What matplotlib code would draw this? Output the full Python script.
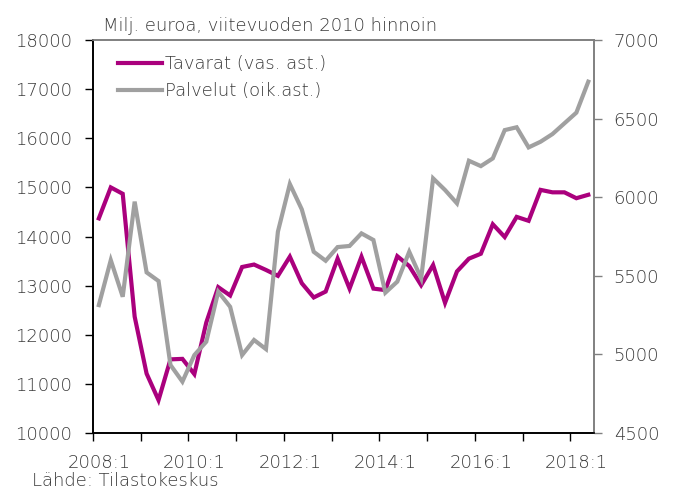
import numpy as np
import matplotlib
matplotlib.use("Agg")
import matplotlib.pyplot as plt

# Quarterly data 2008:1 - 2018:2
quarters = ["%d:%d" % (y, q) for y in range(2008, 2019) for q in range(1, 5)][:42]

# Tavarat, left axis (Milj. euroa)
tavarat = [14370, 15000, 14870, 12370, 11210, 10670, 11500, 11510, 11200, 12250,
           12970, 12800, 13380, 13430, 13320, 13200, 13590, 13050, 12760, 12880,
           13550, 12940, 13590, 12940, 12910, 13600, 13400, 13010, 13420, 12650,
           13290, 13550, 13650, 14250, 13990, 14400, 14320, 14950, 14900, 14900,
           14780, 14850]

# Palvelut, right axis (Milj. euroa)
palvelut = [5314, 5600, 5367, 5972, 5522, 5467, 4933, 4827, 4996, 5081,
            5399, 5303, 4996, 5092, 5034, 5781, 6084, 5923, 5653, 5596,
            5683, 5690, 5770, 5728, 5393, 5463, 5653, 5484, 6120, 6046,
            5961, 6232, 6198, 6247, 6427, 6445, 6317, 6353, 6402, 6470,
            6538, 6735]

left_ticks = [10000, 11000, 12000, 13000, 14000, 15000, 16000, 17000, 18000]
right_ticks = [4500, 5000, 5500, 6000, 6500, 7000]

text_col = "#3a3a3a"
plt.rcParams["font.family"] = ["DejaVu Sans"]
plt.rcParams["font.weight"] = 200
plt.rcParams["font.size"] = 13

fig = plt.figure(figsize=(6.73, 4.91), dpi=100)
ax = fig.add_axes([0.138, 0.118, 0.745, 0.8005])
ax2 = ax.twinx()

x = np.arange(len(quarters))
l1, = ax.plot(x, tavarat, color="#AA007D", lw=3, solid_joinstyle="miter",
              label="Tavarat (vas. ast.)")
l2, = ax2.plot(x, palvelut, color="#A0A0A0", lw=3, solid_joinstyle="miter",
               label="Palvelut (oik.ast.)")

ax.set_xlim(-0.5, len(quarters) - 0.5)
ax.set_ylim(10000, 18000)
ax2.set_ylim(4500, 7000)
ax.set_yticks(left_ticks)
ax2.set_yticks(right_ticks)

# tick marks between years, labels centred on the first quarter
ax.set_xticks(np.arange(-0.5, len(quarters), 4))
ax.set_xticklabels([])
lab_pos = np.arange(0, len(quarters), 8)
ax.set_xticks(lab_pos, minor=True)
ax.set_xticklabels([quarters[i] for i in lab_pos], minor=True)

for a in (ax, ax2):
    a.spines["top"].set_color("#808080")
    a.spines["left"].set_color("black")
    a.spines["bottom"].set_color("black")
    a.spines["right"].set_color("#808080")
    for s in a.spines.values():
        s.set_linewidth(1.2)

ax.tick_params(axis="y", direction="out", length=6, width=1, pad=9,
               labelcolor=text_col, color="black")
ax.tick_params(axis="x", which="major", direction="out", length=6, width=1,
               color="black")
ax.tick_params(axis="x", which="minor", length=0, pad=15, labelcolor=text_col)
ax2.tick_params(axis="y", direction="out", length=6, width=1, pad=8,
                labelcolor=text_col, color="#808080")

ax.text(0.02, 1.012, "Milj. euroa, viitevuoden 2010 hinnoin",
        transform=ax.transAxes, color=text_col, va="bottom")
fig.text(0.047, 0.01, "Lähde: Tilastokeskus", color=text_col)

leg = ax.legend(handles=[l1, l2], loc="upper left", frameon=False,
                handlelength=2.4, handletextpad=0.2, labelspacing=0.5,
                bbox_to_anchor=(0.033, 0.985), borderaxespad=0.1)
for t in leg.get_texts():
    t.set_color(text_col)

fig.savefig("out.png", dpi=100)
